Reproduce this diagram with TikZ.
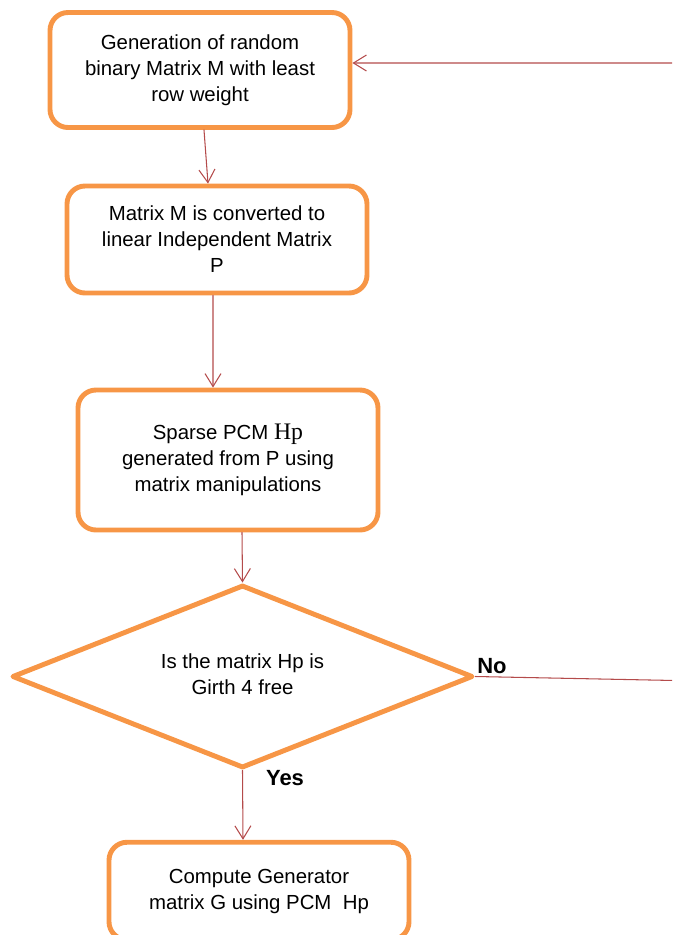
\documentclass[tikz,border=0pt]{standalone}
\usepackage{fontspec}
\setmainfont{Liberation Sans}
\newfontfamily\hpfont{Liberation Serif}
\usetikzlibrary{shapes.geometric,arrows.meta}
\definecolor{boxorange}{RGB}{247,150,70}
\definecolor{linered}{RGB}{180,75,75}
\begin{document}
\begin{tikzpicture}[font=\fontsize{11.6}{14.8}\selectfont, line join=round, line cap=round,
  stepbox/.style={draw=boxorange, line width=2.8pt, rounded corners=0.36cm, align=center,
    minimum width=6cm, inner sep=0pt},
  flow/.style={draw=linered, line width=0.6pt, -{Straight Barb[length=2.6mm,width=3.2mm]}},
  lbl/.style={font=\fontsize{12.5}{14}\selectfont\bfseries}]
% Vùng hiển thị
\useasboundingbox (0,0) rectangle (13.44,-18.7);
\clip (0,0) rectangle (13.44,-18.7);
% Các khối
\node[stepbox, minimum height=2.3cm] (gen) at (4.0,-1.40)
  {Generation of random\\binary Matrix M with least\\row weight};
\node[stepbox, minimum height=2.14cm] (conv) at (4.34,-4.79)
  {Matrix M is converted to\\linear Independent Matrix\\P};
\node[stepbox, minimum height=2.8cm] (sparse) at (4.56,-9.2)
  {Sparse PCM {\hpfont\fontsize{13.5}{14}\selectfont Hp}\\generated from P using\\matrix manipulations};
\node[draw=boxorange, line width=2.8pt, diamond, aspect=2.52, minimum width=9.22cm,
  minimum height=3.66cm, inner sep=0pt, align=center] (girth) at (4.85,-13.53)
  {\raisebox{0.3cm}{\begin{tabular}{c}Is the matrix Hp is\\Girth 4 free\end{tabular}}};
\node[stepbox, minimum height=1.95cm] (gen2) at (5.18,-17.82)
  {Compute Generator\\matrix G using PCM\ \ Hp};
% Nhãn
\node[lbl] (lblno) at (9.84,-13.32) {No};
\node[lbl] (lblyes) at (5.70,-15.56) {Yes};
% Điểm vòng lại bên phải
\coordinate (r1) at (14.0,-13.62);
\coordinate (r2) at (14.0,-1.26);
% Các mũi tên
\draw[flow] ([xshift=0.08cm]gen.south) -- ([xshift=-0.18cm]conv.north);
\draw[flow] ([xshift=-0.08cm]conv.south) -- ([xshift=-0.30cm]sparse.north);
\draw[flow] ([xshift=0.28cm]sparse.south) -- (girth.north);
\draw[flow] (girth.south) -- ([xshift=-0.32cm]gen2.north);
\draw[flow] (girth.east) -- (r1) -- (r2) -- ([yshift=0.14cm]gen.east);
\end{tikzpicture}
\end{document}
